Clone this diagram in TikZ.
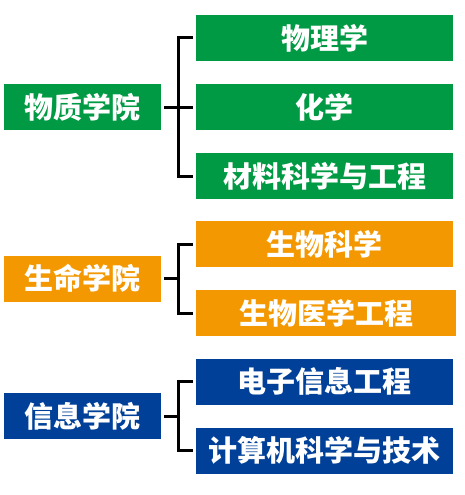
\documentclass[tikz,border=0pt]{standalone}
\usepackage{fontspec}
\newfontfamily\cjk{Noto Sans CJK SC}
\definecolor{cgreen}{HTML}{009A44}
\definecolor{corange}{HTML}{F39800}
\definecolor{cblue}{HTML}{004098}
\tikzset{
  box/.style={rectangle, inner sep=0pt, minimum height=46pt, text=white,
    font=\cjk\bfseries\fontsize{29pt}{31pt}\selectfont},
  lbox/.style={box, minimum width=157pt},
  rbox/.style={box, minimum width=257pt},
  conn/.style={line width=3pt, black, line join=miter}
}
\begin{document}
\begin{tikzpicture}[x=1pt,y=1pt]
\useasboundingbox (0,0) rectangle (464,-495);
% left
\node[lbox, fill=cgreen] (l1) at (82.5,-107) {物质学院};
\node[lbox, fill=corange] (l2) at (82.5,-278.5) {生命学院};
\node[lbox, fill=cblue] (l3) at (82.5,-416) {信息学院};
% right
\node[rbox, fill=cgreen] (r1) at (324.5,-38) {物理学};
\node[rbox, fill=cgreen] (r2) at (324.5,-107) {化学};
\node[rbox, fill=cgreen] (r3) at (324.5,-176) {材料科学与工程};
\node[rbox, fill=corange] (r4) at (324.5,-244) {生物科学};
\node[rbox, fill=corange, minimum width=260pt] (r5) at (326,-313) {生物医学工程};
\node[rbox, fill=cblue] (r6) at (324.5,-381.5) {电子信息工程};
\node[rbox, fill=cblue] (r7) at (324.5,-450.5) {计算机科学与技术};
% connectors
\draw[conn] ([xshift=-3pt]r1.west) -- ++(-14,0) |- ([xshift=-3pt]r3.west);
\draw[conn] ([xshift=3pt]l1.east) -- ([xshift=-3pt]r2.west);
\draw[conn] ([xshift=-3pt]r4.west) -- ++(-14,0) |- ([xshift=-3pt]r5.west -| r4.west);
\draw[conn] ([xshift=3pt]l2.east) -- ([xshift=18pt]l2.east);
\draw[conn] ([xshift=-3pt]r6.west) -- ++(-14,0) |- ([xshift=-3pt]r7.west);
\draw[conn] ([xshift=3pt]l3.east) -- ([xshift=18pt]l3.east);
\end{tikzpicture}
\end{document}
